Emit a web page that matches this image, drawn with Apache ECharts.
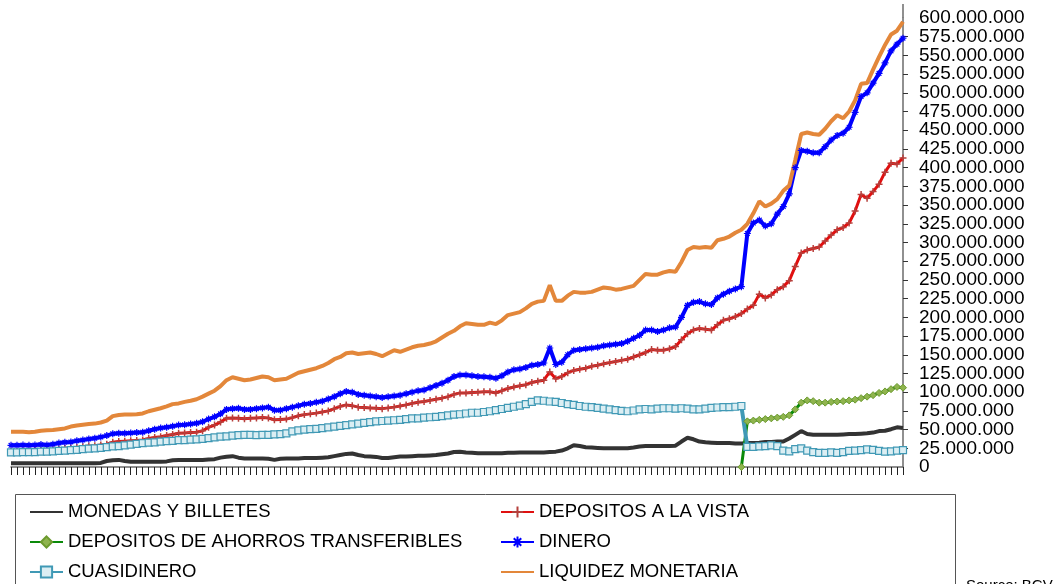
<!DOCTYPE html>
<html>
<head>
<meta charset="utf-8">
<script src="https://cdn.jsdelivr.net/npm/echarts@6/dist/echarts.min.js"></script>
<style>
  html, body { margin: 0; padding: 0; background: #fff; }
  #chart { width: 1057px; height: 584px; }
</style>
</head>
<body>
<div id="chart"></div>
<script>
// valores en millones (el eje los muestra como 600.000.000)
const yTicks = [0, 25, 50, 75, 100, 125, 150, 175, 200, 225, 250, 275, 300, 325, 350, 375, 400, 425, 450, 475, 500, 525, 550, 575, 600]

const monedas = [
  5, 5, 5, 5, 5, 5, 5, 5, 5, 5,
  5, 5, 5, 5, 5, 5.5, 8, 9, 9.5, 8,
  7, 7, 7, 7, 7, 7, 7.5, 9, 9.5, 9.5,
  9.5, 9.5, 9.5, 10, 10.5, 12.5, 13.8, 14.5, 12.5, 11.5,
  11.5, 11.5, 11.5, 11, 9.5, 11, 11.5, 11.5, 11.5, 12,
  12, 12, 12.5, 13, 14.5, 16, 17.5, 18, 16, 14.5,
  14, 13.5, 12, 12, 13, 14, 14, 14.5, 15, 15,
  15.5, 16, 17, 18, 20, 20.5, 19.5, 19, 18.5, 18.5,
  18.5, 18.5, 18.5, 19, 19, 19.5, 19.5, 19.5, 19.5, 19.5,
  20, 20.5, 22, 25, 29, 28, 26.5, 26, 25.5, 25,
  25, 25, 25, 25, 26, 27.5, 28, 28, 28, 28,
  28, 28.5, 34, 39, 37, 34, 33, 32.5, 32, 32,
  32, 31.5, 31.5, 32, 32, 32.5, 33.5, 33.5, 34, 34,
  38, 43, 48, 44, 43, 43, 43, 43, 43, 43.5,
  44, 44, 44.5, 45, 46, 48, 48.5, 50.5, 53, 52
]

const vista = [
  21, 21, 21.5, 21.5, 22, 22, 22.5, 23, 24, 25,
  25.5, 26, 27, 28, 28.5, 29.5, 30.5, 33, 34, 34.5,
  35, 35.5, 36, 38, 39.5, 40.5, 42, 43.5, 45, 45.5,
  46, 46.5, 48.5, 53, 56, 60, 65, 65.5, 65, 64.5,
  65, 65.5, 66, 65.5, 63, 63.5, 64, 66, 68.5, 70,
  71, 72, 73.5, 75, 78, 81, 83, 82, 80, 79.5,
  79, 78.5, 78, 79, 80, 81.5, 83, 85, 86.5, 87.5,
  89, 90.5, 92, 94, 97, 99, 99, 99.5, 100, 100.5,
  100.5, 99, 102, 105, 107, 108.5, 110, 113, 114.5, 116,
  127, 118, 121, 126, 129, 130.5, 132, 134.5, 136, 138,
  139.5, 141, 142.5, 144, 147, 150, 153, 157, 156, 156,
  158, 161, 170, 178, 183, 185, 184, 183, 190, 196,
  198, 201, 205, 211, 216, 231, 226, 230, 237, 241,
  249, 268, 286, 290, 292, 294, 302, 310, 317, 320,
  326, 342, 364, 359, 368, 378, 394, 406, 405, 413
]

const ahorros = [
  null, null, null, null, null, null, null, null, null, null,
  null, null, null, null, null, null, null, null, null, null,
  null, null, null, null, null, null, null, null, null, null,
  null, null, null, null, null, null, null, null, null, null,
  null, null, null, null, null, null, null, null, null, null,
  null, null, null, null, null, null, null, null, null, null,
  null, null, null, null, null, null, null, null, null, null,
  null, null, null, null, null, null, null, null, null, null,
  null, null, null, null, null, null, null, null, null, null,
  null, null, null, null, null, null, null, null, null, null,
  null, null, null, null, null, null, null, null, null, null,
  null, null, null, null, null, null, null, null, null, null,
  null, null, 0, 61, 62, 63, 64, 65, 66, 67,
  69, 77, 86, 89, 88, 86, 86, 87, 87.5, 88,
  89, 90, 92, 94, 96, 99, 101, 104, 107, 106
]

const dinero = [
  29, 29, 29.5, 29, 29.5, 30, 29.5, 30.5, 32, 33,
  33.5, 35, 36, 37.5, 38.5, 40, 42, 44.5, 45, 45,
  45.5, 46, 46.5, 48.5, 50.5, 52, 53, 54.5, 56, 56.5,
  57.5, 58.5, 60.5, 64, 67, 71, 77, 78, 78.5, 77,
  77, 78, 79, 80, 76, 76, 78, 80, 82, 84,
  85, 86.5, 88, 91, 94, 98, 101, 100, 97, 96,
  95, 94, 93, 94, 95, 96, 98, 100, 102, 103,
  106, 109, 112, 116, 121, 123, 123, 122, 121, 120.5,
  120, 118.5, 122, 127, 130, 131, 133, 136, 137, 139,
  159, 137, 140, 150, 156, 157, 158, 159, 160, 162,
  163, 164, 165, 168, 172, 176, 183, 183, 181, 183,
  186, 187, 200, 216, 220, 221, 218, 217, 226, 231,
  235, 238, 241, 312, 326, 330, 322, 325, 338, 348,
  365, 400, 423, 422, 420, 420, 428, 437, 443, 446,
  454, 474, 495, 500, 513, 526, 540, 556, 565, 573
]

const cuasidinero = [
  19.5, 19.5, 20, 20, 20, 20.5, 20.5, 21, 21.5, 22,
  22.5, 23, 24, 24.5, 25, 25.5, 26.5, 27.5, 28, 29,
  30, 31, 32, 32.5, 33, 34, 34.5, 35, 36, 36,
  36.5, 37, 37.5, 38.5, 39.5, 40.5, 41, 42, 42.5, 43,
  43, 42.5, 43, 43, 43.5, 44, 45, 47.5, 49, 50,
  50.5, 51, 52, 53, 54, 55, 56, 57, 58, 59,
  60, 61, 61.5, 62, 62.5, 63, 64, 65, 65, 66,
  66.5, 67, 68, 69, 70, 70.5, 71.5, 72.5, 72.5, 73.5,
  74.5, 76, 77.5, 79, 80.5, 82, 84, 87, 89, 88.5,
  87.5, 87, 85.5, 84, 83, 81.5, 80.5, 80, 79, 78,
  77, 76, 75, 74.5, 75.5, 77, 77.5, 77, 78, 78.5,
  78.5, 78, 78.5, 78, 77, 77, 78, 79, 79.5, 80,
  80, 80.5, 81.5, 27, 27, 27.5, 28, 29, 28, 22,
  21, 24, 25, 22, 20, 19, 19, 19.5, 19, 20,
  21.5, 22, 22.5, 23.5, 23, 21.5, 20.5, 21, 22, 22.5
]

const liquidez = [
  47, 47, 47, 46.5, 47, 48.5, 49, 49.5, 50.5, 51.5,
  54, 55.5, 56.5, 57.5, 58, 59.5, 62, 68, 69.5, 70,
  70, 70.5, 71.5, 74.5, 76.5, 78.5, 81, 84, 85, 87,
  88.5, 90.5, 94, 98, 102, 108, 116, 120, 118, 116,
  117, 119, 121, 120, 116, 117, 118, 122, 126, 128,
  130, 132, 135, 139, 144, 147, 152, 153, 151, 152,
  153, 151, 148, 152, 156, 154, 157, 160, 162, 163,
  165, 168, 173, 178, 182, 188, 192, 191, 190, 190,
  193, 191, 196, 203, 205, 207, 212, 218, 221, 222,
  243, 222, 222, 229, 234, 233, 233, 234, 237, 240,
  239, 237, 238, 240, 242, 250, 258, 257, 257, 260,
  262, 261, 274, 290, 294, 293, 294, 293, 303, 305,
  308, 313, 317, 325, 339, 355, 348, 352, 358, 369,
  376, 410, 445, 447, 445, 444, 452, 462, 470, 466,
  475, 490, 512, 513, 531, 548, 564, 578, 583, 595
]

// semanas (sin etiqueta visible en el eje)
const categories = monedas.map((_, i) => 'S' + (i + 1))

const FONT = "'Liberation Sans', Arial, sans-serif"

const chart = echarts.init(document.getElementById('chart'), null, { renderer: 'canvas' })

const lineSeries = (name, data, color, extra) => Object.assign({
  name: name,
  type: 'line',
  data: data,
  symbol: 'none',
  showAllSymbol: true,
  symbolSize: 6,
  lineStyle: { color: color, width: 3.5 },
  itemStyle: { color: color },
  emphasis: { disabled: true }
}, extra || {})

const legendBase = {
  orient: 'vertical',
  top: 502,
  height: 100,
  padding: 0,
  itemWidth: 33, itemHeight: 14, itemGap: 10,
  textStyle: { fontFamily: FONT, fontSize: 18.5, color: '#000', lineHeight: 20 }
}

// elementos sin marcador: solo la línea en la leyenda
const plainItem = name => ({ name: name, itemStyle: { opacity: 0 } })

const labelBase = {
  margin: 16,
  color: '#000',
  fontFamily: FONT,
  fontSize: 19,
  formatter: v => v === 0 ? '0' : v + '.000.000'
}

chart.setOption({
  animation: false,
  grid: { left: 11, right: 154, top: 18, bottom: 117 },
  xAxis: {
    type: 'category',
    data: categories,
    boundaryGap: false,
    axisLine: { lineStyle: { color: '#6b6b6b', width: 1.5 } },
    axisTick: { show: true, interval: 0, length: 8, lineStyle: { color: '#222' } },
    axisLabel: { show: false },
    splitLine: { show: false }
  },
  yAxis: [
    {
      type: 'value',
      position: 'right',
      offset: 0,
      min: yTicks[0],
      max: yTicks[yTicks.length - 1],
      interval: 25,
      axisLine: { show: true, lineStyle: { color: '#6b6b6b', width: 1.5 } },
      axisTick: { show: true, length: 5, lineStyle: { color: '#333' } },
      axisLabel: Object.assign({}, labelBase, { showMinLabel: false, showMaxLabel: false }),
      splitLine: { show: false }
    },
    {
      // solo las etiquetas extremas (0 y 600.000.000), que el eje principal oculta por solaparse
      type: 'value',
      position: 'right',
      offset: 0,
      min: yTicks[0],
      max: yTicks[yTicks.length - 1],
      interval: 25,
      axisLine: { show: false },
      axisTick: { show: false },
      axisLabel: Object.assign({}, labelBase, { customValues: [yTicks[0], yTicks[yTicks.length - 1]] }),
      splitLine: { show: false }
    }
  ],
  legend: [
    Object.assign({}, legendBase, {
      left: 29,
      data: [plainItem('MONEDAS Y BILLETES'), 'DEPOSITOS DE AHORROS TRANSFERIBLES', 'CUASIDINERO']
    }),
    Object.assign({}, legendBase, {
      left: 500,
      data: ['DEPOSITOS A LA VISTA', 'DINERO', plainItem('LIQUIDEZ MONETARIA')]
    })
  ],
  graphic: [
    {
      // prolongación del eje por encima de 600.000.000
      type: 'line',
      shape: { x1: 903, y1: 4, x2: 903, y2: 18 },
      style: { stroke: '#6b6b6b', lineWidth: 1.5 },
      silent: true
    },
    {
      type: 'rect',
      shape: { x: 15.5, y: 494.5, width: 940, height: 100 },
      style: { fill: 'none', stroke: '#555', lineWidth: 1 },
      silent: true
    },
    {
      type: 'text',
      left: 966, top: 578,
      style: { text: 'Source: BCV', fill: '#000', font: '15px ' + FONT },
      silent: true
    }
  ],
  series: [
    lineSeries('MONEDAS Y BILLETES', monedas, '#333333', { lineStyle: { color: '#333333', width: 4 } }),
    lineSeries('DEPOSITOS A LA VISTA', vista, '#ff0000', {
      symbol: 'path://M3,0V6M0,3H6',
      symbolSize: 7,
      lineStyle: { color: '#e01010', width: 3 },
      itemStyle: { color: '#b5403c', borderColor: '#b5403c', borderWidth: 1.5 }
    }),
    lineSeries('DEPOSITOS DE AHORROS TRANSFERIBLES', ahorros, '#008000', {
      symbol: 'diamond',
      symbolSize: 7,
      connectNulls: false,
      lineStyle: { color: '#0a8a0a', width: 3 },
      itemStyle: { color: '#8fb44e', borderColor: '#6c9a2e', borderWidth: 1 }
    }),
    lineSeries('DINERO', dinero, '#0000ff', {
      symbol: 'path://M3,0V6M0,3H6M1,1L5,5M5,1L1,5',
      symbolSize: 7,
      lineStyle: { color: '#0000ff', width: 4 },
      itemStyle: { color: '#0000ff', borderColor: '#0000ff', borderWidth: 1.2 }
    }),
    lineSeries('CUASIDINERO', cuasidinero, '#4099b5', {
      symbol: 'rect',
      symbolSize: 7,
      lineStyle: { color: '#4099b5', width: 4 },
      itemStyle: { color: '#dbeef3', borderColor: '#4099b5', borderWidth: 1.2 }
    }),
    lineSeries('LIQUIDEZ MONETARIA', liquidez, '#e3873a', { lineStyle: { color: '#e3873a', width: 4 } })
  ]
})
</script>
</body>
</html>
